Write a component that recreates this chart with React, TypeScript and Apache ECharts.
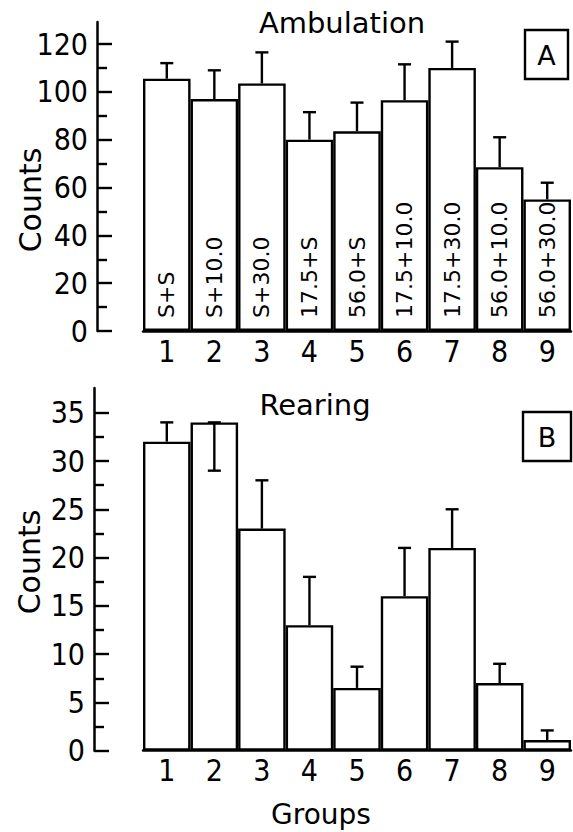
import React, { useEffect, useRef } from 'react';
import * as echarts from 'echarts';

const groups = ['1', '2', '3', '4', '5', '6', '7', '8', '9'];
const treatments = ['S+S', 'S+10.0', 'S+30.0', '17.5+S', '56.0+S', '17.5+10.0', '17.5+30.0', '56.0+10.0', '56.0+30.0'];

const ambulationMeans = [105.5, 97, 103.5, 80, 83.5, 96.5, 110, 68.5, 55];
const ambulationSem = [6.5, 12, 13, 11.5, 12, 15, 11, 12.5, 7];
const ambulationErrDir = [1, 1, 1, 1, 1, 1, 1, 1, 1];

const rearingMeans = [32, 34, 23, 13, 6.5, 16, 21, 7, 1.1];
const rearingSem = [2, 5, 5, 5, 2.2, 5, 4, 2, 1];
const rearingErrDir = [1, -1, 1, 1, 1, 1, 1, 1, 1];

const ambTicks = [0, 20, 40, 60, 80, 100, 120];
const ambMinorTicks = [10, 30, 50, 70, 90, 110];
const rearTicks = [0, 5, 10, 15, 20, 25, 30, 35];
const rearMinorTicks = [2.5, 7.5, 12.5, 17.5, 22.5, 27.5, 32.5];

const NARROW = "'Liberation Sans Narrow', 'DejaVu Sans Condensed', 'DejaVu Sans', sans-serif";
const SANS = "'DejaVu Sans', sans-serif";

const errorRender = (params: any, api: any) => {
  const i = api.value(0);
  const mean = api.value(1);
  const end = api.value(2);
  const p0 = api.coord([i, mean]);
  const p1 = api.coord([i, end]);
  const half = 6.5;
  const st = { stroke: '#000', lineWidth: 2.4 };
  const children: any[] = [
    { type: 'line', shape: { x1: p0[0], y1: p0[1], x2: p1[0], y2: p1[1] }, style: st },
    { type: 'line', shape: { x1: p1[0] - half, y1: p1[1], x2: p1[0] + half, y2: p1[1] }, style: st },
  ];
  if (end < mean) {
    children.push({ type: 'line', shape: { x1: p0[0] - half, y1: p0[1], x2: p0[0] + half, y2: p0[1] }, style: st });
  }
  return { type: 'group', children };
};

function mainY(gridIndex: number, max: number, offset: number, ticks: number[]) {
  return {
    type: 'value', gridIndex, min: 0, max, offset, position: 'left',
    axisLine: { show: true, lineStyle: { color: '#000', width: 2.5 } },
    axisTick: { show: true, inside: true, length: 15, customValues: ticks, lineStyle: { color: '#000', width: 2.4 } },
    axisLabel: { show: true, customValues: ticks, margin: 9, color: '#000', fontSize: 30, fontFamily: NARROW },
    splitLine: { show: false },
  };
}

function minorY(gridIndex: number, max: number, offset: number, ticks: number[]) {
  return {
    type: 'value', gridIndex, min: 0, max, offset, position: 'left',
    axisLine: { show: false },
    axisTick: { show: true, inside: true, length: 10, customValues: ticks, lineStyle: { color: '#000', width: 2.4 } },
    axisLabel: { show: false },
    splitLine: { show: false },
  };
}

function catX(gridIndex: number) {
  return {
    type: 'category', gridIndex, data: groups,
    axisLine: { show: true, lineStyle: { color: '#000', width: 2.5 } },
    axisTick: { show: false },
    axisLabel: { color: '#000', fontSize: 30, fontFamily: NARROW, margin: 5 },
  };
}

const textStyle = (text: string, size: number) => ({
  text, fill: '#000', font: `${size}px ${SANS}`,
  textAlign: 'center', textVerticalAlign: 'middle', align: 'center', verticalAlign: 'middle',
});

export default function App() {
  const ref = useRef<HTMLDivElement>(null);
  useEffect(() => {
    if (!ref.current) return;
    const chart = echarts.init(ref.current, undefined, { renderer: 'svg' });
    const ambErr = groups.map((_, i) => [i, ambulationMeans[i], ambulationMeans[i] + ambulationErrDir[i] * ambulationSem[i]]);
    const rearErr = groups.map((_, i) => [i, rearingMeans[i], rearingMeans[i] + rearingErrDir[i] * rearingSem[i]]);
    const barStyle = { color: '#fff', borderColor: '#000', borderWidth: 2.4 };
    chart.setOption({
      animation: false,
      backgroundColor: '#fff',
      grid: [
        { left: 143, right: 2, top: 22, height: 309 },
        { left: 143, right: 2, top: 388, height: 362.7 },
      ],
      xAxis: [catX(0), catX(1)],
      yAxis: [
        mainY(0, 129.2, 46, ambTicks),
        minorY(0, 129.2, 46, ambMinorTicks),
        mainY(1, 37.56, 49, rearTicks),
        minorY(1, 37.56, 49, rearMinorTicks),
      ],
      series: [
        {
          type: 'bar', xAxisIndex: 0, yAxisIndex: 0, data: ambulationMeans,
          barCategoryGap: 0, itemStyle: barStyle,
          label: {
            show: true, position: 'insideBottom', rotate: 90, align: 'left', verticalAlign: 'middle',
            distance: 13, color: '#000', fontSize: 22, fontFamily: SANS,
            formatter: (p: any) => treatments[p.dataIndex],
          },
        },
        {
          type: 'custom', xAxisIndex: 0, yAxisIndex: 0, data: ambErr, renderItem: errorRender,
          encode: { x: 0, y: 1 }, z: 5,
        },
        {
          type: 'bar', xAxisIndex: 1, yAxisIndex: 2, data: rearingMeans,
          barCategoryGap: 0, itemStyle: barStyle,
        },
        {
          type: 'custom', xAxisIndex: 1, yAxisIndex: 2, data: rearErr, renderItem: errorRender,
          encode: { x: 0, y: 1 }, z: 5,
        },
      ],
      graphic: [
        { type: 'text', x: 342, y: 23, style: textStyle('Ambulation', 29) },
        { type: 'text', x: 315, y: 405, style: textStyle('Rearing', 29) },
        { type: 'text', x: 321, y: 814, style: textStyle('Groups', 28) },
        { type: 'text', x: 30, y: 200, rotation: Math.PI / 2, style: textStyle('Counts', 30) },
        { type: 'text', x: 29, y: 562, rotation: Math.PI / 2, style: textStyle('Counts', 30) },
        { type: 'rect', shape: { x: 525, y: 30, width: 43, height: 49 }, style: { fill: '#fff', stroke: '#000', lineWidth: 2.4 } },
        { type: 'text', x: 546.5, y: 55, style: textStyle('A', 27) },
        { type: 'rect', shape: { x: 523, y: 412, width: 48, height: 49 }, style: { fill: '#fff', stroke: '#000', lineWidth: 2.4 } },
        { type: 'text', x: 547, y: 437, style: textStyle('B', 27) },
      ],
    });
    return () => chart.dispose();
  }, []);
  return <div ref={ref} style={{ position: 'absolute', left: 0, top: 0, width: 573, height: 832 }} />;
}
